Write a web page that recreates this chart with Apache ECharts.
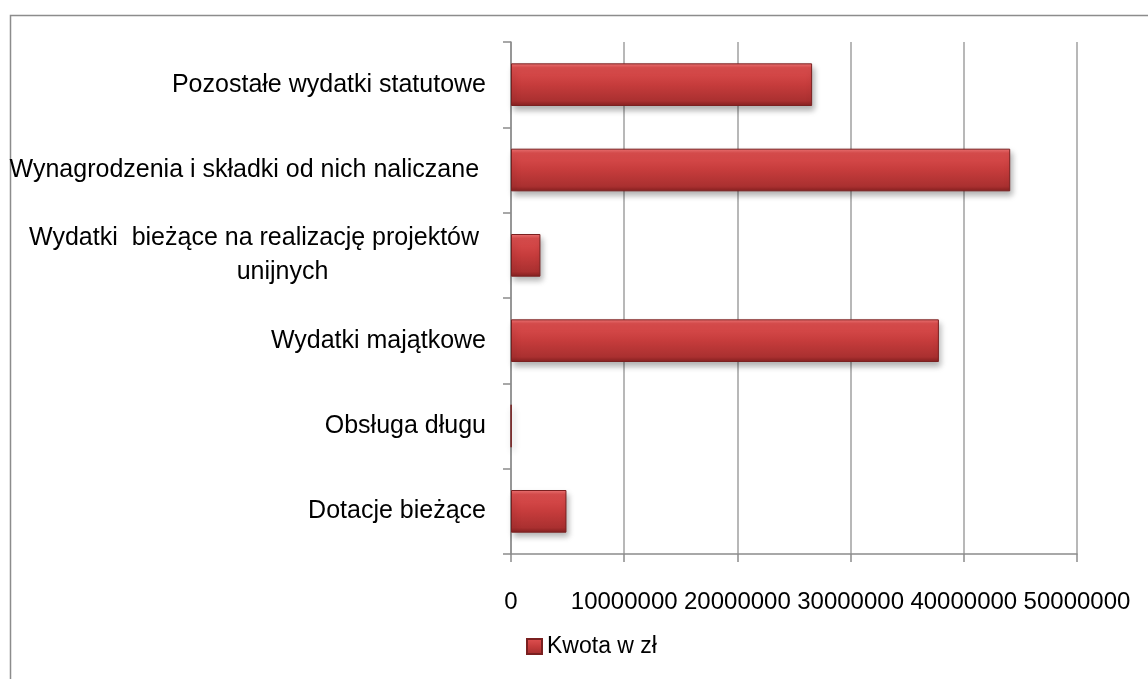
<!DOCTYPE html>
<html>
<head>
<meta charset="utf-8">
<script src="https://cdn.jsdelivr.net/npm/echarts@6/dist/echarts.min.js"></script>
<style>
html,body{margin:0;padding:0;background:#fff;}
#chart{width:1148px;height:679px;}
</style>
</head>
<body>
<div id="chart"></div>
<script>
const categories = [
  "Dotacje bieżące",
  "Obsługa długu",
  "Wydatki majątkowe",
  "Wydatki  bieżące na realizację projektów\nunijnych",
  "Wynagrodzenia i składki od nich naliczane ",
  "Pozostałe wydatki statutowe"
];
const values = [4900000, 20000, 37800000, 2600000, 44100000, 26600000];
const seriesName = "Kwota w zł";
const xTicks = [0, 10000000, 20000000, 30000000, 40000000, 50000000];

const FONT = "Liberation Sans";
const chart = echarts.init(document.getElementById('chart'));
const barColor = new echarts.graphic.LinearGradient(0, 0, 0, 1, [
  {offset: 0, color: '#ef7676'},
  {offset: 0.1, color: '#dc4e4e'},
  {offset: 0.5, color: '#c63c3c'},
  {offset: 0.88, color: '#aa3030'},
  {offset: 1, color: '#852020'}
]);
chart.setOption({
  animation: false,
  textStyle: {fontFamily: FONT},
  graphic: [{
    type: 'rect', left: 8, top: 13, z: -10,
    shape: {width: 1300, height: 800},
    style: {fill: 'none', stroke: '#8c8c8c', lineWidth: 1.5}
  }],
  grid: {left: 511, right: 71, top: 42, bottom: 125},
  legend: {
    left: 521, top: 630,
    itemWidth: 15, itemHeight: 15, itemGap: 7,
    icon: 'rect',
    textStyle: {fontFamily: FONT, fontSize: 23, color: '#000'},
    data: [seriesName]
  },
  xAxis: {
    type: 'value', min: xTicks[0], max: xTicks[xTicks.length - 1], interval: xTicks[1] - xTicks[0],
    axisLine: {show: true, lineStyle: {color: '#8c8c8c', width: 1.5}},
    axisTick: {show: true, length: 8, lineStyle: {color: '#8c8c8c', width: 1.5}},
    splitLine: {show: true, lineStyle: {color: '#a0a0a0', width: 1.5}},
    axisLabel: {
      fontFamily: FONT, fontSize: 24, color: '#000', margin: 36,
      showMinLabel: true, showMaxLabel: true, hideOverlap: false,
      formatter: function (v) { return String(v); }
    }
  },
  yAxis: {
    type: 'category', data: categories,
    axisLine: {show: true, lineStyle: {color: '#8c8c8c', width: 1.5}},
    axisTick: {show: true, length: 8, lineStyle: {color: '#8c8c8c', width: 1.5}},
    axisLabel: {
      fontFamily: FONT, fontSize: 25, color: '#000', margin: 25, lineHeight: 34,
      formatter: function (v) {
        if (v.indexOf('\n') >= 0) {
          const parts = v.split('\n');
          return '{a|' + parts[0] + ' }\n{b|' + parts[1] + '}';
        }
        return v;
      },
      rich: {
        a: {fontFamily: FONT, fontSize: 25, color: '#000', lineHeight: 34},
        b: {fontFamily: FONT, fontSize: 25, color: '#000', lineHeight: 34, align: 'center', padding: [0, 0, 0, 50]}
      }
    }
  },
  series: [{
    name: seriesName, type: 'bar', data: values, barWidth: '50%',
    itemStyle: {
      color: barColor,
      borderColor: '#7a2020', borderWidth: 1,
      shadowColor: 'rgba(0,0,0,0.3)', shadowBlur: 6, shadowOffsetX: 2, shadowOffsetY: 4
    }
  }]
});
</script>
</body>
</html>
